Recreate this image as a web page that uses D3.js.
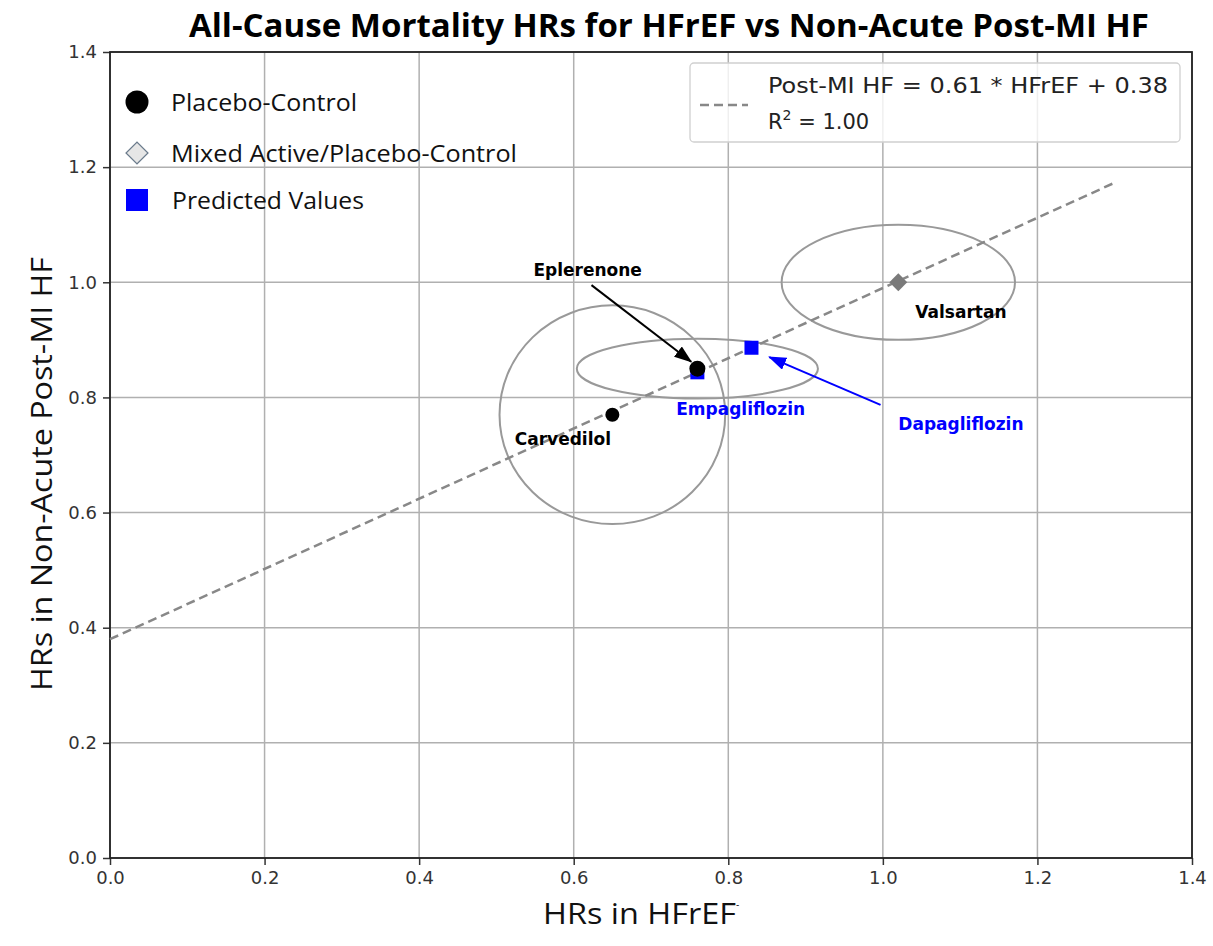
<!DOCTYPE html>
<html lang="en">
<head>
    <meta charset="UTF-8">
    <title>All-Cause Mortality HRs for HFrEF vs Non-Acute Post-MI HF</title>
    <script src="https://d3js.org/d3.v7.min.js"></script>
    <style>
        body { margin: 0; background: #fff; }
        .tick text { font-family: "DejaVu Sans", sans-serif; font-size: 18px; fill: #333; }
        .lbl { font-family: "DejaVu Sans", sans-serif; font-weight: bold; font-size: 17px; }
    </style>
</head>
<body>
<svg id="chart"></svg>
<script>
    // data
    const xTicks = [0.0, 0.2, 0.4, 0.6, 0.8, 1.0, 1.2, 1.4];
    const yTicks = [0.0, 0.2, 0.4, 0.6, 0.8, 1.0, 1.2, 1.4];

    const drugs = ["Carvedilol", "Eplerenone", "Valsartan"];
    const drugX = [0.65, 0.76, 1.02];
    const drugY = [0.77, 0.85, 1.00];
    const drugType = ["placebo", "placebo", "mixed"];
    // confidence ellipses: half widths in x and y
    const ciRx = [0.146, 0.156, 0.151];
    const ciRy = [0.19, 0.052, 0.10];

    const predicted = ["Empagliflozin", "Dapagliflozin"];
    const predX = [0.76, 0.83];
    const predY = [0.8436, 0.8863];

    const slope = 0.61, intercept = 0.38;
    const fitRange = [0, 1.3];

    // labels: [text, x, y, colour]
    const labels = [
        ["Eplerenone", 0.618, 1.011, "#000"],
        ["Carvedilol", 0.586, 0.717, "#000"],
        ["Valsartan", 1.101, 0.938, "#000"],
        ["Empagliflozin", 0.816, 0.769, "#0000ff"],
        ["Dapagliflozin", 1.101, 0.743, "#0000ff"]
    ];
    // arrows: [x1, y1, x2, y2, colour]
    const arrows = [
        [0.623, 0.995, 0.752, 0.862, "#000"],
        [0.997, 0.787, 0.853, 0.870, "#0000ff"]
    ];

    const W = 1213, H = 946;
    const margin = { top: 52, right: 21, bottom: 88, left: 110 };
    const width = W - margin.left - margin.right;
    const height = H - margin.top - margin.bottom;

    const root = d3.select("#chart").attr("width", W).attr("height", H);
    const svg = root.append("g").attr("transform", `translate(${margin.left},${margin.top})`);

    const x = d3.scaleLinear().domain([0, 1.4]).range([0, width]);
    const y = d3.scaleLinear().domain([0, 1.4]).range([height, 0]);

    // grid
    svg.append("g").selectAll("line").data(xTicks).enter().append("line")
        .attr("x1", d => x(d)).attr("x2", d => x(d)).attr("y1", 0).attr("y2", height)
        .attr("stroke", "#b0b0b0").attr("stroke-width", 1.5);
    svg.append("g").selectAll("line").data(yTicks).enter().append("line")
        .attr("y1", d => y(d)).attr("y2", d => y(d)).attr("x1", 0).attr("x2", width)
        .attr("stroke", "#b0b0b0").attr("stroke-width", 1.5);

    // axes
    const xAxis = svg.append("g").attr("transform", `translate(0,${height})`)
        .call(d3.axisBottom(x).tickValues(xTicks).tickFormat(d3.format(".1f")).tickSize(7).tickPadding(6));
    const yAxis = svg.append("g")
        .call(d3.axisLeft(y).tickValues(yTicks).tickFormat(d3.format(".1f")).tickSize(7).tickPadding(6));
    [xAxis, yAxis].forEach(a => {
        a.select(".domain").remove();
        a.selectAll(".tick line").attr("stroke", "#333").attr("stroke-width", 1.5);
    });

    // frame
    svg.append("rect").attr("width", width).attr("height", height)
        .attr("fill", "none").attr("stroke", "#222").attr("stroke-width", 1.8);

    // ellipses
    svg.append("g").selectAll("ellipse").data(drugs).enter().append("ellipse")
        .attr("cx", (d, i) => x(drugX[i])).attr("cy", (d, i) => y(drugY[i]))
        .attr("rx", (d, i) => x(ciRx[i]) - x(0)).attr("ry", (d, i) => y(0) - y(ciRy[i]))
        .attr("fill", "none").attr("stroke", "#999").attr("stroke-width", 2);

    // regression line
    svg.append("line")
        .attr("x1", x(fitRange[0])).attr("y1", y(slope * fitRange[0] + intercept))
        .attr("x2", x(fitRange[1])).attr("y2", y(slope * fitRange[1] + intercept))
        .attr("stroke", "#888").attr("stroke-width", 2.5).attr("stroke-dasharray", "9,5");

    // predicted squares
    svg.append("g").selectAll("rect").data(predicted).enter().append("rect")
        .attr("x", (d, i) => x(predX[i]) - 7).attr("y", (d, i) => y(predY[i]) - 7)
        .attr("width", 14).attr("height", 14).attr("fill", "#0000ff");

    // observed points
    drugs.forEach((d, i) => {
        if (drugType[i] === "placebo") {
            svg.append("circle").attr("cx", x(drugX[i])).attr("cy", y(drugY[i]))
                .attr("r", i === 0 ? 7 : 8).attr("fill", "#000");
        } else {
            svg.append("path").attr("d", d3.symbol(d3.symbolSquare, 160)())
                .attr("transform", `translate(${x(drugX[i])},${y(drugY[i])}) rotate(45)`)
                .attr("fill", "#7a7a7a");
        }
    });

    // arrows
    const defs = root.append("defs");
    ["#000", "#0000ff"].forEach((c, i) => {
        defs.append("marker").attr("id", "arr" + i).attr("viewBox", "0 0 14 10")
            .attr("refX", 13).attr("refY", 5).attr("markerWidth", 18).attr("markerHeight", 13)
            .attr("markerUnits", "userSpaceOnUse").attr("orient", "auto")
            .append("path").attr("d", "M0,0 L14,5 L0,10 z").attr("fill", c);
    });
    arrows.forEach(a => {
        svg.append("line")
            .attr("x1", x(a[0])).attr("y1", y(a[1])).attr("x2", x(a[2])).attr("y2", y(a[3]))
            .attr("stroke", a[4]).attr("stroke-width", 2)
            .attr("marker-end", `url(#arr${a[4] === "#000" ? 0 : 1})`);
    });

    // labels
    svg.append("g").selectAll("text").data(labels).enter().append("text")
        .attr("class", "lbl")
        .attr("x", d => x(d[1])).attr("y", d => y(d[2]))
        .attr("text-anchor", "middle").attr("fill", d => d[3])
        .text(d => d[0]);

    // left legend
    const leg = svg.append("g").attr("transform", "translate(27,50)");
    const legFont = "'Open Sans', sans-serif";
    leg.append("circle").attr("cx", 0).attr("cy", 0).attr("r", 11.5).attr("fill", "#000");
    leg.append("path").attr("d", d3.symbol(d3.symbolSquare, 240)())
        .attr("transform", "translate(0,51) rotate(45)")
        .attr("fill", "#e6e6e6").attr("stroke", "#6b7b8c").attr("stroke-width", 1.3);
    leg.append("rect").attr("x", -11).attr("y", 87).attr("width", 22).attr("height", 22).attr("fill", "#0000ff");
    [["Placebo-Control", 9, 186], ["Mixed Active/Placebo-Control", 60, 346], ["Predicted Values", 107, 192]].forEach((t, i) => {
        leg.append("text").attr("x", i === 2 ? 35 : 34).attr("y", t[1])
            .attr("textLength", t[2]).attr("lengthAdjust", "spacingAndGlyphs")
            .style("font-family", legFont).style("font-size", "23px").attr("fill", "#111")
            .text(t[0]);
    });

    // right legend box
    const box = svg.append("g").attr("transform", `translate(${580},11)`);
    box.append("rect").attr("width", 490).attr("height", 79).attr("rx", 4)
        .attr("fill", "rgba(255,255,255,0.8)").attr("stroke", "#d0d0d0").attr("stroke-width", 1.3);
    box.append("line").attr("x1", 10).attr("x2", 58).attr("y1", 42).attr("y2", 42)
        .attr("stroke", "#888").attr("stroke-width", 2.5).attr("stroke-dasharray", "9,5");
    const bt = box.append("g").style("font-family", "'DejaVu Sans', sans-serif").style("font-size", "21px").attr("fill", "#222");
    bt.append("text").attr("x", 78).attr("y", 30)
        .attr("textLength", 400).attr("lengthAdjust", "spacingAndGlyphs")
        .text(`Post-MI HF = ${slope.toFixed(2)} * HFrEF + ${intercept.toFixed(2)}`);
    const r2 = bt.append("text").attr("x", 78).attr("y", 66);
    r2.append("tspan").text("R");
    r2.append("tspan").attr("dy", -9).style("font-size", "14px").text("2");
    r2.append("tspan").attr("dy", 9).text(" = 1.00");

    // title
    root.append("text").attr("x", 669).attr("y", 37).attr("text-anchor", "middle")
        .attr("textLength", 960).attr("lengthAdjust", "spacingAndGlyphs")
        .style("font-family", "'Open Sans', sans-serif").style("font-weight", "bold").style("font-size", "32px")
        .text("All-Cause Mortality HRs for HFrEF vs Non-Acute Post-MI HF");

    // axis titles
    const xl = root.append("text").attr("x", 543).attr("y", 924)
        .style("font-family", "'Open Sans', sans-serif").style("font-size", "29px").attr("fill", "#111");
    xl.append("tspan").attr("textLength", 193).attr("lengthAdjust", "spacingAndGlyphs").text("HRs in HFrEF");
    xl.append("tspan").attr("dy", -16).style("font-size", "10px").text("-");
    root.append("text").attr("transform", "translate(52,474) rotate(-90)").attr("text-anchor", "middle")
        .attr("textLength", 434).attr("lengthAdjust", "spacingAndGlyphs")
        .style("font-family", "'Open Sans', sans-serif").style("font-size", "30px").attr("fill", "#111")
        .text("HRs in Non-Acute Post-MI HF");
</script>
</body>
</html>
